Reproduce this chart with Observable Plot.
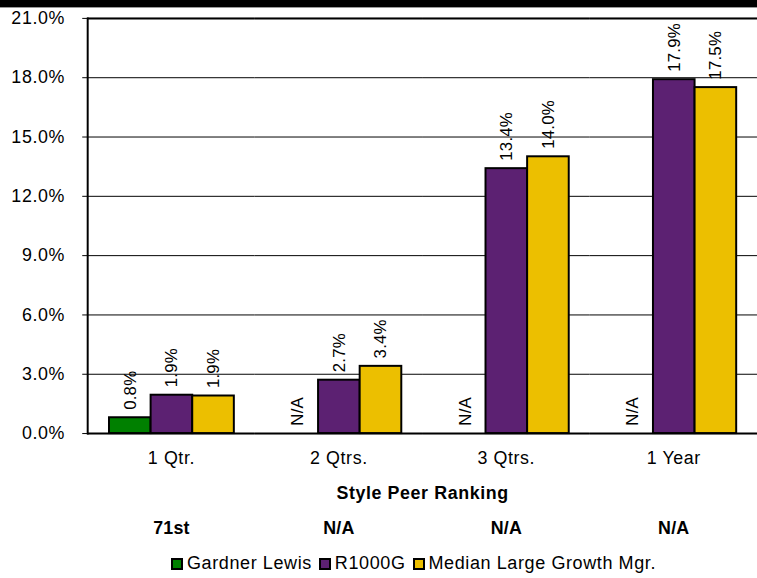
<!DOCTYPE html>
<html><head><meta charset="utf-8">
<script src="https://cdn.jsdelivr.net/npm/d3@7"></script>
<script src="https://cdn.jsdelivr.net/npm/@observablehq/plot@0.6"></script>
<style>
body{margin:0;background:#fff;font-family:"Liberation Sans",Arial,sans-serif;}
#topbar{height:7px;background:#000;border-bottom:1px solid #999;}
#chart{width:757px;overflow:hidden;}
#chart svg{display:block;}
#chart text{letter-spacing:0.6px}
#chart g[aria-label="text"] text{letter-spacing:0.2px}
#legend{display:flex;margin-left:171px;font-size:18px;letter-spacing:0.6px;align-items:center;height:29px;padding-top:1px;color:#000}
.item{display:flex;align-items:center;margin-right:7px}
.sw{width:8px;height:8px;border:2px solid #000;margin-right:4px}
</style></head><body>
<div id="topbar"></div><div id="chart"></div><div id="legend"></div>
<script>
const periods = ["1 Qtr.", "2 Qtrs.", "3 Qtrs.", "1 Year"];
const seriesNames = ["Gardner Lewis", "R1000G", "Median Large Growth Mgr."];
const gardnerLewis = [0.8, null, null, null];
const r1000g = [1.94, 2.7, 13.4, 17.9];
const medianLargeGrowth = [1.9, 3.4, 14.0, 17.5];
const rankings = ["71st", "N/A", "N/A", "N/A"];
const yTicks = [0, 3, 6, 9, 12, 15, 18, 21];
const seriesColors = ["#008000", "#5c2172", "#ecbf00"];

const seriesValues = [gardnerLewis, r1000g, medianLargeGrowth];
const rows = periods.flatMap((p, i) => seriesNames.map((s, j) => ({period: p, series: s, value: seriesValues[j][i]})));
const bars = rows.filter(d => d.value != null);
const fmt = d => d.toFixed(1) + "%";

const plot = Plot.plot({
  width: 764, height: 545, marginTop: 10, marginBottom: 116, marginLeft: 87, marginRight: 0,
  style: {fontFamily: '"Liberation Sans", Arial, sans-serif', fontSize: "18px", background: "white", color: "black"},
  fx: {domain: periods, padding: 0},
  x: {domain: seriesNames, paddingInner: 0, paddingOuter: 0.5, axis: null},
  y: {domain: [0, 21]},
  color: {domain: seriesNames, range: seriesColors},
  marks: [
    Plot.ruleY(yTicks, {stroke: "black", strokeWidth: 1}),
    Plot.ruleY([0, 21], {stroke: "black", strokeWidth: 2}),
    Plot.barY(bars, {fx: "period", x: "series", y: "value", fill: "series", stroke: "black", strokeWidth: 2}),
    Plot.text(rows, {fx: "period", x: "series", y: d => d.value ?? 0,
      text: d => d.value == null ? "N/A" : fmt(d.value), rotate: -90, textAnchor: "start", dy: -8, fontSize: 17}),
    Plot.frame({anchor: "left", facetAnchor: "left", stroke: "black", strokeWidth: 2}),
    Plot.axisY({ticks: yTicks, tickFormat: fmt, tickSize: 5, tickPadding: 18, label: null}),
    Plot.axisFx({anchor: "bottom", tickSize: 0, tickPadding: 18, label: "Style Peer Ranking", labelAnchor: "center", labelOffset: 66}),
    Plot.text(periods, {fx: d => d, text: (d, i) => rankings[i], frameAnchor: "bottom", dy: 101, fontWeight: "bold"})
  ]
});
plot.querySelectorAll('[aria-label="fx-axis label"], [aria-label="fx-axis label"] text').forEach(t => t.setAttribute("font-weight", "bold"));
document.getElementById("chart").appendChild(plot);

const legend = document.getElementById("legend");
seriesNames.forEach((s, i) => {
  const item = document.createElement("div");
  item.className = "item";
  const sw = document.createElement("div");
  sw.className = "sw";
  sw.style.background = seriesColors[i];
  const label = document.createElement("span");
  label.textContent = s;
  item.appendChild(sw);
  item.appendChild(label);
  legend.appendChild(item);
});
</script>
</body></html>
